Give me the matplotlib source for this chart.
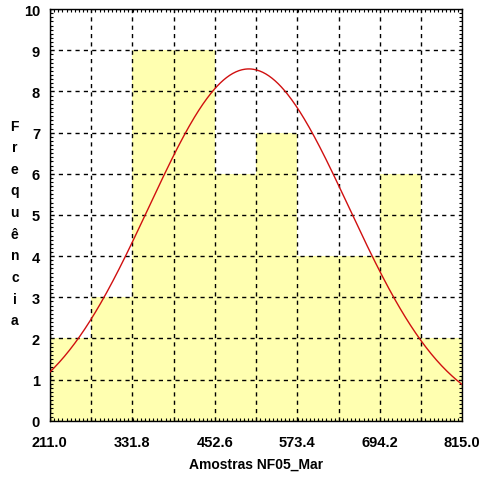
import numpy as np
import matplotlib.pyplot as plt
from matplotlib.ticker import MultipleLocator

# Histogram of NF05_Mar samples
bin_edges = [211.0, 271.4, 331.8, 392.2, 452.6, 513.0, 573.4, 633.8, 694.2, 754.6, 815.0]
counts = [2, 3, 9, 9, 6, 7, 4, 4, 6, 2]
xtick_labels = ['211.0', '331.8', '452.6', '573.4', '694.2', '815.0']

# fitted normal curve parameters
fit_mean = 502.5
fit_std = 146.6

plt.rcParams['font.family'] = ['Liberation Sans', 'DejaVu Sans']

fig = plt.figure(figsize=(4.79, 4.81), dpi=100)
ax = fig.add_axes([0.104, 0.123, 0.861, 0.856])

widths = np.diff(bin_edges)
ax.bar(bin_edges[:-1], counts, width=widths, align='edge', color='#ffffb0',
       edgecolor='none', zorder=1)

xs = np.linspace(bin_edges[0], bin_edges[-1], 400)
n = sum(counts)
ys = n * widths[0] / (fit_std * np.sqrt(2 * np.pi)) * np.exp(-(xs - fit_mean) ** 2 / (2 * fit_std ** 2))
ax.plot(xs, ys, color='#d01010', lw=1.0, zorder=3)

ax.set_xlim(bin_edges[0], bin_edges[-1])
ax.set_ylim(0, 10)

# gridlines on every bin edge, labels on every other one
ax.set_xticks(bin_edges)
ax.set_xticklabels([xtick_labels[i // 2] if i % 2 == 0 else '' for i in range(len(bin_edges))])
ax.set_yticks(range(11))
ax.xaxis.set_minor_locator(MultipleLocator(widths[0] / 10))
ax.yaxis.set_minor_locator(MultipleLocator(0.1))

ax.grid(True, which='major', color='black', linestyle=(0, (3, 3)), lw=1.0, zorder=2)
ax.set_axisbelow(False)

ax.tick_params(which='both', direction='in', top=True, right=True, color='black')
ax.tick_params(which='major', length=0, labelsize=10.5)
ax.tick_params(axis='x', which='major', pad=10)
ax.tick_params(axis='y', which='major', pad=7)
ax.tick_params(which='minor', length=2.5, width=0.8)
for lbl in ax.get_xticklabels() + ax.get_yticklabels():
    lbl.set_fontweight('bold')

for s in ax.spines.values():
    s.set_color('black')
    s.set_linewidth(1.0)

ax.set_xlabel('Amostras NF05_Mar', fontsize=10, fontweight='bold', labelpad=6)

# vertical stacked y label
word = 'Frequência'
for i, ch in enumerate(word):
    fig.text(0.031, 0.737 - i * 0.045, ch, fontsize=10, fontweight='bold',
             ha='center', va='center')

fig.savefig('out.png', dpi=100, facecolor='white')
